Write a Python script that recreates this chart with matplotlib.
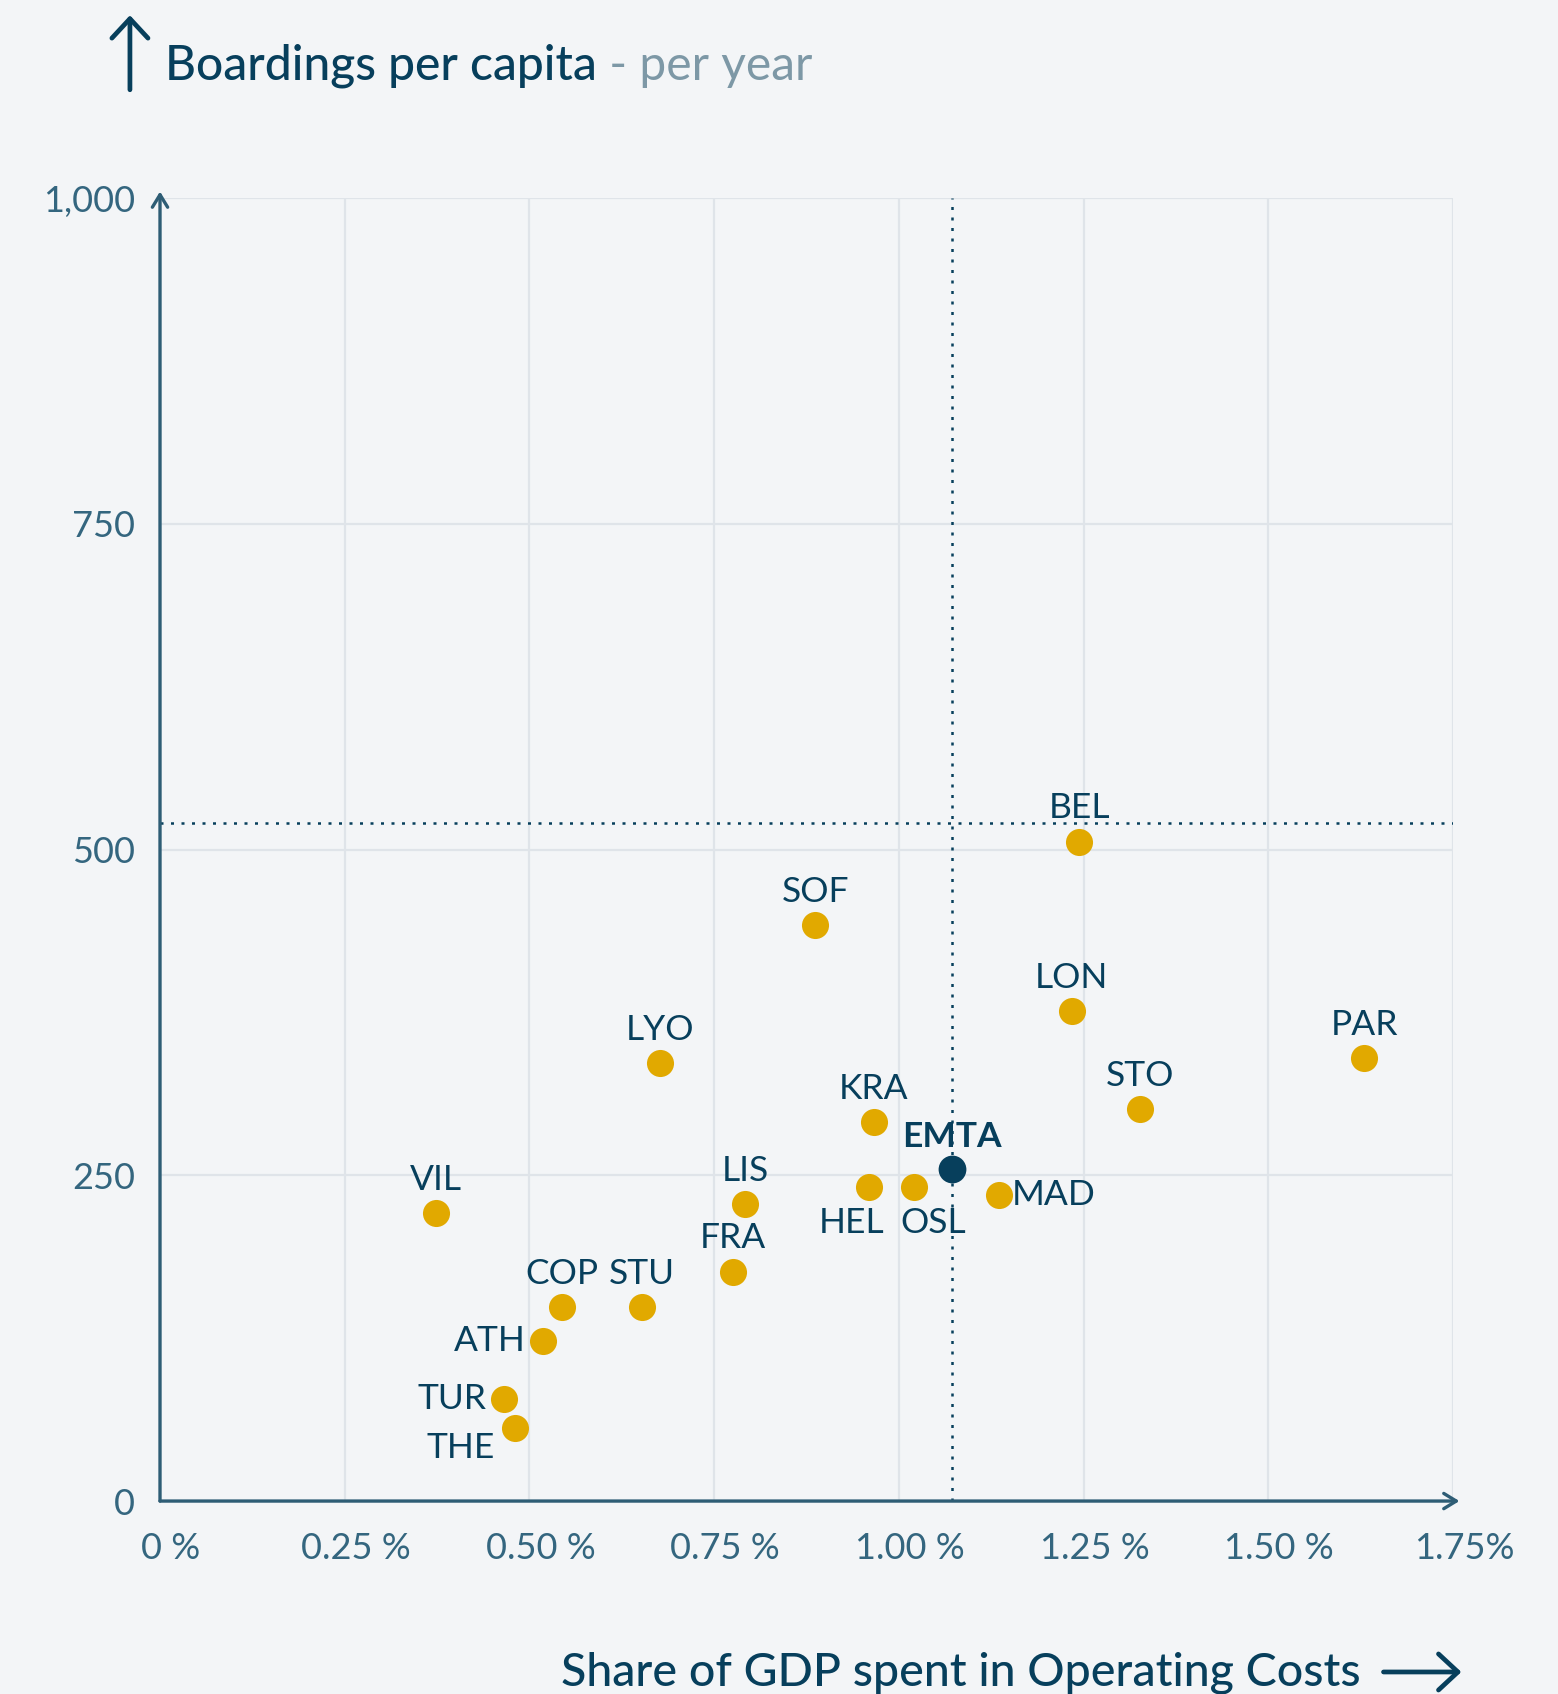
import matplotlib.pyplot as plt
from matplotlib.transforms import ScaledTranslation

# Operating cost share of GDP (%) vs boardings per capita per year
cities = ["BEL", "SOF", "LON", "PAR", "LYO", "STO", "KRA", "HEL", "OSL", "MAD",
          "LIS", "VIL", "FRA", "COP", "STU", "ATH", "TUR", "THE"]
gdp_share = [1.244, 0.887, 1.234, 1.630, 0.677, 1.327, 0.966, 0.959, 1.020, 1.136,
             0.792, 0.374, 0.775, 0.544, 0.652, 0.519, 0.465, 0.480]
boardings = [506, 442, 376, 340, 336, 301, 291, 241, 241, 235,
             228, 221, 176, 149, 149, 123, 78, 56]

emta_share = 1.072
emta_boardings = 255

# reference lines (averages)
avg_share = 1.072
avg_boardings = 520

x_ticks = [0, 0.25, 0.5, 0.75, 1.0, 1.25, 1.5, 1.75]
x_ticklabels = ["0 %", "0.25 %", "0.50 %", "0.75 %", "1.00 %", "1.25 %", "1.50 %", "1.75%"]
y_ticks = [0, 250, 500, 750, 1000]
y_ticklabels = ["0", "250", "500", "750", "1,000"]

# label placement: (dx, dy) in points, horizontal alignment
label_pos = {
    "ATH": (-13, 0, "right"),
    "TUR": (-12, 0, "right"),
    "THE": (-14, -14, "right"),
    "HEL": (-12, -26, "center"),
    "OSL": (14, -26, "center"),
    "MAD": (9, 0, "left"),
}

BG = "#f3f5f7"
DARK = "#073f5c"
AXIS = "#2e5d75"
TICK = "#34667f"
GOLD = "#e1a900"
GRID = "#dfe4e9"

plt.rcParams["font.family"] = ["Lato", "DejaVu Sans"]

fig = plt.figure(figsize=(15.58, 16.94), dpi=100, facecolor=BG)
ax = fig.add_axes([0.1027, 0.1139, 0.8299, 0.7692], facecolor=BG)

ax.set_xlim(0, 1.75)
ax.set_ylim(0, 1000)
ax.set_xticks(x_ticks)
ax.set_xticklabels(x_ticklabels)
ax.set_yticks(y_ticks)
ax.set_yticklabels(y_ticklabels)
ax.tick_params(length=0, labelsize=26, labelcolor=TICK)
ax.tick_params(axis="x", pad=22)
ax.tick_params(axis="y", pad=18)
for lbl in ax.get_xticklabels():
    lbl.set_transform(lbl.get_transform() + ScaledTranslation(0.11, 0, fig.dpi_scale_trans))

ax.grid(True, color=GRID, linewidth=1.6)
ax.set_axisbelow(True)
for side in ["top", "right", "left", "bottom"]:
    ax.spines[side].set_visible(False)

# axis lines with open arrow heads
axis_arrow = dict(arrowstyle="->,head_length=0.9,head_width=0.55",
                  color=AXIS, lw=2.4, shrinkA=0, shrinkB=0)
ax.annotate("", xy=(0, 1.005), xytext=(0, 0), xycoords="axes fraction",
            arrowprops=axis_arrow, annotation_clip=False)
ax.annotate("", xy=(1.005, 0), xytext=(0, 0), xycoords="axes fraction",
            arrowprops=axis_arrow, annotation_clip=False)

ax.axhline(avg_boardings, color=DARK, linestyle=(0, (1.2, 3)), linewidth=1.8, zorder=1)
ax.axvline(avg_share, color=DARK, linestyle=(0, (1.2, 3)), linewidth=1.8, zorder=1)

ax.scatter(gdp_share, boardings, s=380, color=GOLD, linewidths=0, zorder=3)
ax.scatter([emta_share], [emta_boardings], s=400, color=DARK, linewidths=0, zorder=4)

for name, x, y in zip(cities, gdp_share, boardings):
    dx, dy, ha = label_pos.get(name, (0, 24, "center"))
    ax.annotate(name, (x, y), xytext=(dx, dy), textcoords="offset points",
                ha=ha, va="center", fontsize=25.5, color=DARK, zorder=5)

ax.annotate("EMTA", (emta_share, emta_boardings), xytext=(0, 23), textcoords="offset points",
            ha="center", va="center", fontsize=25.5, fontweight="bold", color=DARK, zorder=5)

# titles with direction arrows
big_arrow = dict(arrowstyle="->,head_length=1.4,head_width=1.3",
                 color=DARK, lw=3.4, shrinkA=0, shrinkB=0)

t = fig.text(0.106, 0.953, "Boardings per capita", fontsize=34.5, fontweight="medium",
             color=DARK, ha="left", va="baseline")
ax.annotate(" - per year", xy=(1, 0), xycoords=t, fontsize=34.5, color="#7d98a6",
            ha="left", va="bottom", annotation_clip=False)
fig.add_artist(plt.Annotation("", xy=(0.0834, 0.991), xytext=(0.0834, 0.947),
                              xycoords="figure fraction", arrowprops=big_arrow))

fig.text(0.360, 0.0053, "Share of GDP spent in Operating Costs", fontsize=33.5,
         fontweight="medium", color=DARK, ha="left", va="baseline")
fig.add_artist(plt.Annotation("", xy=(0.938, 0.0130), xytext=(0.888, 0.0130),
                              xycoords="figure fraction", arrowprops=big_arrow))

fig.savefig("out.png", dpi=100, facecolor=BG)
